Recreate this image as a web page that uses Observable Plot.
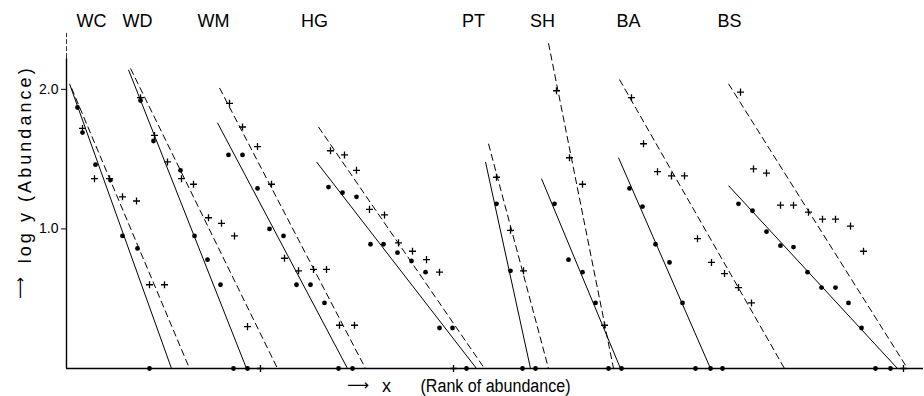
<!DOCTYPE html>
<html>
<head>
<meta charset="utf-8">
<script src="https://cdn.jsdelivr.net/npm/d3@7"></script>
<script src="https://cdn.jsdelivr.net/npm/@observablehq/plot@0.6"></script>
<style>
  html, body { margin: 0; padding: 0; background: #fff; }
  #chart svg { display: block; }
</style>
</head>
<body>
<div id="chart"></div>
<script>
// Sites (groups) in left-to-right order
const groups = ["WC", "WD", "WM", "HG", "PT", "SH", "BA", "BS"];
// x position (rank scale) at which each group name is written
const groupLabelX = [25, 71, 147, 248, 407, 476, 562, 663];

// Fitted lines: [x at start, log y at start, x where log y reaches 0]
const solidFit = [[3, 2.04, 105], [62, 2.14, 180], [151, 1.76, 281], [250, 1.48, 410],
                  [419, 1.48, 464], [475, 1.36, 554], [552, 1.51, 644], [662, 1.31, 831]];
const dashedFit = [[5, 2.01, 123], [64, 2.15, 211], [153, 2.01, 299], [252, 1.73, 418],
                   [422, 1.61, 482], [482, 2.33, 547], [553, 2.07, 718], [662, 2.04, 841]];

// Observed points: [rank position x, log y]
const wcDots = [[11, 1.87], [16, 1.69], [29, 1.46], [44, 1.35], [56, 0.95], [71, 0.86], [83, 0]];
const wcPlus = [[16, 1.72], [28, 1.36], [43, 1.36], [56, 1.23], [70, 1.20], [83, 0.60], [98, 0.60]];
const wdDots = [[74, 1.92], [87, 1.63], [114, 1.42], [128, 0.95], [141, 0.78], [154, 0.60], [167, 0], [181, 0]];
const wdPlus = [[74, 1.94], [88, 1.67], [101, 1.48], [115, 1.36], [127, 1.32], [142, 1.08], [155, 1.04],
                [168, 0.95], [181, 0.30], [194, 0]];
const wmDots = [[162, 1.53], [176, 1.53], [191, 1.29], [203, 1.00], [217, 0.95], [230, 0.60], [244, 0.60],
                [258, 0.47], [272, 0], [286, 0]];
const wmPlus = [[163, 1.90], [176, 1.73], [191, 1.59], [205, 1.32], [218, 0.79], [232, 0.70], [247, 0.71],
                [260, 0.71], [273, 0.31], [288, 0.31]];
const hgDots = [[262, 1.30], [276, 1.26], [290, 1.23], [304, 0.89], [317, 0.89], [331, 0.83], [345, 0.77],
                [359, 0.69], [373, 0.29], [386, 0.29], [400, 0]];
const hgPlus = [[264, 1.56], [278, 1.53], [290, 1.42], [303, 1.14], [318, 1.10], [332, 0.90], [346, 0.84],
                [360, 0.78], [373, 0.69], [387, 0]];
const ptDots = [[430, 1.18], [444, 0.70], [456, 0], [469, 0]];
const ptPlus = [[430, 1.37], [444, 0.99], [457, 0.70]];
const shDots = [[488, 1.18], [502, 0.78], [516, 0.69], [529, 0.47], [542, 0], [555, 0]];
const shPlus = [[490, 1.99], [503, 1.51], [516, 1.32], [538, 0.31]];
const baDots = [[563, 1.29], [576, 1.16], [589, 0.89], [603, 0.76], [616, 0.47], [629, 0], [644, 0], [656, 0]];
const baPlus = [[565, 1.94], [577, 1.61], [591, 1.41], [605, 1.38], [618, 1.38], [631, 0.93], [645, 0.76],
                [658, 0.68], [672, 0.58], [685, 0.47]];
const bsDots = [[672, 1.18], [686, 1.13], [700, 0.98], [714, 0.88], [727, 0.87], [741, 0.69], [755, 0.58],
                [769, 0.58], [782, 0.47], [795, 0.29], [809, 0], [824, 0]];
const bsPlus = [[674, 1.98], [687, 1.43], [700, 1.40], [714, 1.17], [727, 1.17], [742, 1.12], [756, 1.07],
                [769, 1.07], [784, 1.02], [797, 0.84], [837, 0]];

const yTicks = [1, 2];

// ---- build tables ----
const dotSets = [wcDots, wdDots, wmDots, hgDots, ptDots, shDots, baDots, bsDots];
const plusSets = [wcPlus, wdPlus, wmPlus, hgPlus, ptPlus, shPlus, baPlus, bsPlus];
const toRows = sets => sets.flatMap((pts, i) => pts.map(([x, y]) => ({group: groups[i], x, y})));
const dots = toRows(dotSets);
const pluses = toRows(plusSets);
const fitRows = fits => fits.map(([x1, y1, x2], i) => ({group: groups[i], x1, y1, x2, y2: 0}));
const solids = fitRows(solidFit);
const dasheds = fitRows(dashedFit);
const labels = groups.map((g, i) => ({group: g, x: groupLabelX[i]}));

const font = "'Liberation Sans', Arial, sans-serif";

const chart = Plot.plot({
  width: 924,
  height: 396,
  marginLeft: 66,
  marginRight: 1,
  marginTop: 33,
  marginBottom: 28,
  x: {type: "linear", domain: [0, 857], axis: null},
  y: {type: "linear", domain: [0, 2.4], axis: null},
  style: {fontFamily: font, background: "#fff", color: "#000", overflow: "visible"},
  marks: [
    // axes
    Plot.ruleY([0], {stroke: "#000", strokeWidth: 1.5}),
    Plot.ruleX([0], {y1: 0, y2: 2.22, stroke: "#000", strokeWidth: 1.4}),
    Plot.ruleX([0], {y1: 2.22, y2: 2.4, stroke: "#000", strokeWidth: 0.8, strokeDasharray: "5,2"}),
    Plot.axisY({ticks: yTicks, tickFormat: d => d.toFixed(1), tickSize: 5, tickPadding: 3,
      fontSize: 14, label: null, anchor: "left", stroke: "#000"}),
    // fitted lines
    Plot.link(solids, {x1: "x1", y1: "y1", x2: "x2", y2: "y2", stroke: "#000", strokeWidth: 1}),
    Plot.link(dasheds, {x1: "x1", y1: "y1", x2: "x2", y2: "y2", stroke: "#000", strokeWidth: 1,
      strokeDasharray: "7,3.5"}),
    // observations
    Plot.dot(dots, {x: "x", y: "y", r: 2.4, fill: "#000", stroke: "none"}),
    Plot.dot(pluses, {x: "x", y: "y", r: 2.4, symbol: "plus", stroke: "#000", strokeWidth: 1.3}),
    // group names
    Plot.text(labels, {x: "x", y: 2.49, text: "group", fontSize: 18, fill: "#000"}),
    // y axis title
    Plot.text(["⟶"], {x: -46, y: 0.577, rotate: -90, fontSize: 15, fill: "#000",
      fontFamily: "DejaVu Sans", className: "yarrow"}),
    Plot.text(["log y (Abundance)"], {x: -41, y: 1.452, rotate: -90, fontSize: 18, fill: "#000",
      className: "ylab"}),
    // x axis title
    Plot.text(["⟶"], {x: 291.5, y: -0.12, fontSize: 15, fill: "#000", fontFamily: "DejaVu Sans",
      className: "xarrow"}),
    Plot.text(["x"], {x: 320, y: -0.125, fontSize: 18, fill: "#000"}),
    Plot.text(["(Rank of abundance)"], {x: 354, y: -0.125, textAnchor: "start", fontSize: 18,
      fill: "#000", className: "xlab"})
  ]
});

// fit the axis titles to the lettering extent of the original figure
d3.select(chart).selectAll("g.ylab text").attr("textLength", 195).attr("lengthAdjust", "spacing");
d3.select(chart).selectAll("g.xlab text").attr("textLength", 150).attr("lengthAdjust", "spacingAndGlyphs");
d3.select(chart).selectAll("g.xarrow text, g.yarrow text").attr("textLength", 22).attr("lengthAdjust", "spacingAndGlyphs");

document.getElementById("chart").append(chart);
</script>
</body>
</html>
